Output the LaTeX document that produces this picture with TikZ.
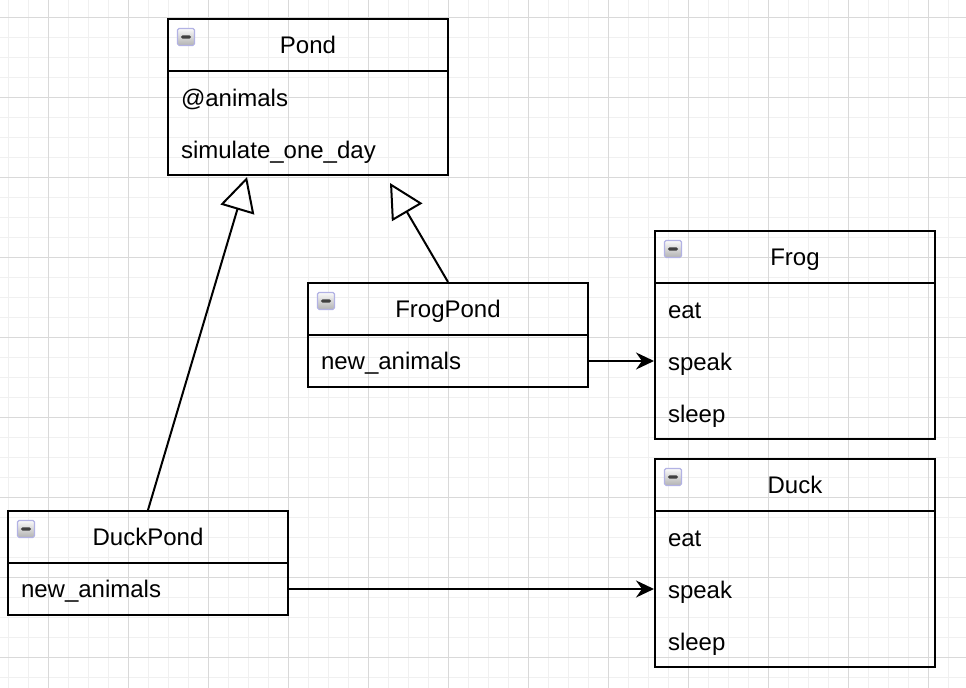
\documentclass[tikz,border=0pt]{standalone}
\usepackage{fontspec}
\setmainfont{Liberation Sans}
\usetikzlibrary{arrows.meta}
\begin{document}
\begin{tikzpicture}
[x=.5pt,y=-.5pt,line width=1pt,font=\fontsize{12}{14}\selectfont,
 mi/.style={black!6,line width=.5pt},ma/.style={black!15,line width=.5pt},
 hd/.style={draw,minimum width=140pt,minimum height=26pt,inner sep=0pt,text height=8.6pt,text depth=0pt},
 bd/.style={draw,minimum width=140pt,minimum height=#1,inner sep=0pt},
 f/.style={anchor=west,inner sep=0pt,text height=9pt,text depth=3pt,yshift=-1.5pt},
 ic/.style={draw=black!35!blue!30,line width=.6pt,rounded corners=.8pt,top color=black!2,bottom color=black!30,
  minimum size=8.5pt,inner sep=0pt,
  path picture={\fill[black!75]([xshift=-2.6pt,yshift=-.8pt]path picture bounding box.center) rectangle ++(5.2pt,1.6pt);}},
 inh/.style={-{Triangle[open,length=17pt,width=17.5pt]}},
 as/.style={-{Stealth[length=9pt,width=8.5pt,inset=3pt]}}]
\useasboundingbox (0,0) rectangle (966,688);
% grid
\foreach \x in {8,28,...,948} \draw[mi] (\x,0) -- (\x,688);
\foreach \y in {18,38,...,678} \draw[mi] (0,\y) -- (966,\y);
\foreach \x in {48,128,...,928} \draw[ma] (\x,0) -- (\x,688);
\foreach \y in {18,98,...,658} \draw[ma] (0,\y) -- (966,\y);
% classes
\node(pondh) at (308,45)[hd]{Pond};\node(pondb) at (308,123)[bd=52pt]{};
\node(fph) at (448,309)[hd]{FrogPond};\node(fpb) at (448,361)[bd=26pt]{};
\node(dph) at (148,537)[hd]{DuckPond};\node(dpb) at (148,589)[bd=26pt]{};
\node(frh) at (795,257)[hd]{Frog};\node(frb) at (795,361)[bd=78pt]{};
\node(dkh) at (795,485)[hd]{Duck};\node(dkb) at (795,589)[bd=78pt]{};
\node(pondi) at (186,37)[ic]{};\node(fpi) at (326,301)[ic]{};\node(dpi) at (26,529)[ic]{};
\node(fri) at (673,249)[ic]{};\node(dki) at (673,477)[ic]{};
% fields
\node(pa) at (180,98)[f]{@animals};\node(ps) at (180,150)[f]{simulate\_one\_day};
\node(fpn) at (320,361)[f]{new\_animals};\node(dpn) at (20,589)[f]{new\_animals};
\node(fre) at (667,310)[f]{eat};\node(frs) at (667,362)[f]{speak};\node(frl) at (667,414)[f]{sleep};
\node(dke) at (667,538)[f]{eat};\node(dks) at (667,590)[f]{speak};\node(dkl) at (667,642)[f]{sleep};
% connectors
\coordinate(t1) at (247,177);\coordinate(t2) at (390,183);
\draw[inh](dph.north)--(t1);\draw[inh](fph.north)--(t2);
\draw[as](fpb.east)--(frb.west);\draw[as](dpb.east)--(dkb.west);
\end{tikzpicture}
\end{document}
